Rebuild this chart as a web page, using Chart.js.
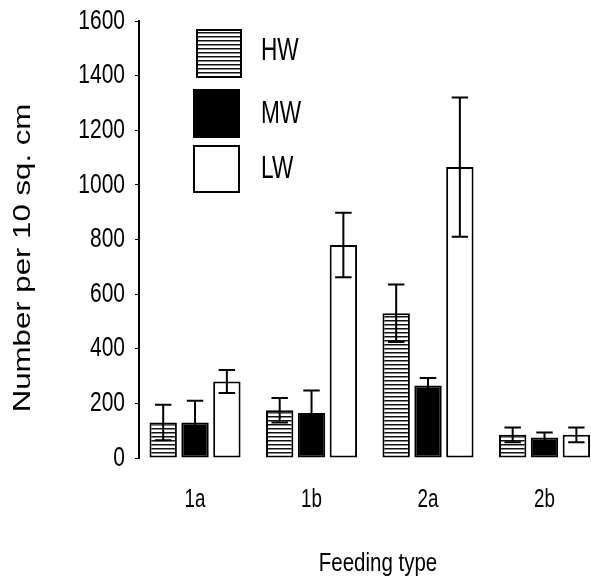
<!DOCTYPE html>
<html>
<head>
<meta charset="utf-8">
<script src="https://cdn.jsdelivr.net/npm/chart.js@4.4.1/dist/chart.umd.min.js"></script>
<style>
    html, body { margin: 0; padding: 0; background: #fff; }
    canvas { display: block; }
</style>
</head>
<body>
<canvas id="chart" width="591" height="586"></canvas>
<script>
// Data
const categories = ['1a', '1b', '2a', '2b'];
const seriesNames = ['HW', 'MW', 'LW'];
const hwValues = [130, 175, 530, 85];
const mwValues = [130, 165, 265, 75];
const lwValues = [280, 780, 1065, 85];
const hwErrors = [65, 45, 105, 27];
const mwErrors = [80, 82, 28, 18];
const lwErrors = [42, 118, 255, 27];
const yTicks = [0, 200, 400, 600, 800, 1000, 1200, 1400, 1600];

const errorSets = [hwErrors, mwErrors, lwErrors];
const sans = "'Liberation Sans', Arial, sans-serif";

const canvas = document.getElementById('chart');
const ctx0 = canvas.getContext('2d');

// horizontal stripe fill for HW
const makeHatch = () => {
    const c = document.createElement('canvas');
    c.width = 4;
    c.height = 4;
    const g = c.getContext('2d');
    g.fillStyle = '#fff';
    g.fillRect(0, 0, 4, 4);
    g.fillStyle = '#111';
    g.fillRect(0, 0, 4, 1);
    g.fillStyle = '#888';
    g.fillRect(0, 1, 4, 1);
    return ctx0.createPattern(c, 'repeat');
};
const hatch = makeHatch();
const fills = [hatch, '#000', '#fff'];

const toPoints = (vals) => vals.map((v, i) => ({ x: i + 1, y: v }));

// the figure uses a condensed face, none is installed, so squeeze Liberation Sans
const squeezed = (ctx, text, x, y, size, sx, align) => {
    ctx.save();
    ctx.translate(x, y);
    ctx.scale(sx, 1);
    ctx.font = size + 'px ' + sans;
    ctx.fillStyle = '#000';
    ctx.textAlign = align;
    ctx.textBaseline = 'middle';
    ctx.fillText(text, 0, 0);
    ctx.restore();
};

const errorBars = {
    id: 'errorBars',
    afterDatasetsDraw(chart) {
        const ctx = chart.ctx;
        const y = chart.scales.y;
        chart.data.datasets.forEach((ds, di) => {
            const meta = chart.getDatasetMeta(di);
            meta.data.forEach((bar, i) => {
                const v = ds.data[i].y;
                const e = errorSets[di][i];
                const top = y.getPixelForValue(v + e);
                const bot = y.getPixelForValue(v - e);
                const half = bar.width * 0.3;
                ctx.save();
                ctx.strokeStyle = '#000';
                ctx.lineWidth = 2;
                ctx.beginPath();
                ctx.moveTo(bar.x, top);
                ctx.lineTo(bar.x, bot);
                ctx.moveTo(bar.x - half, top);
                ctx.lineTo(bar.x + half, top);
                ctx.moveTo(bar.x - half, bot);
                ctx.lineTo(bar.x + half, bot);
                ctx.stroke();
                ctx.restore();
            });
        });
    }
};

// tick labels, titles and the legend box
const extras = {
    id: 'extras',
    afterDraw(chart) {
        const ctx = chart.ctx;
        const xs = chart.scales.x;
        const ys = chart.scales.y;

        yTicks.forEach((v) => squeezed(ctx, String(v), 125, ys.getPixelForValue(v), 28, 0.75, 'right'));
        categories.forEach((c, i) => squeezed(ctx, c, xs.getPixelForValue(i + 1), 500, 25, 0.75, 'center'));
        squeezed(ctx, 'Feeding type', 378, 564, 25, 0.82, 'center');

        const boxes = [
            { x: 197, y: 30, w: 44, h: 47, ty: 51 },
            { x: 194, y: 90, w: 45, h: 47, ty: 114 },
            { x: 194, y: 146, w: 45, h: 46, ty: 169 }
        ];
        boxes.forEach((b, i) => {
            ctx.save();
            ctx.fillStyle = fills[i];
            ctx.fillRect(b.x, b.y, b.w, b.h);
            ctx.strokeStyle = '#000';
            ctx.lineWidth = 2;
            ctx.strokeRect(b.x, b.y, b.w, b.h);
            ctx.restore();
            squeezed(ctx, seriesNames[i], 261, b.ty, 31, 0.73, 'left');
        });

        ctx.save();
        ctx.translate(23, 258);
        ctx.rotate(-Math.PI / 2);
        ctx.scale(1.3, 1);
        ctx.font = '24px ' + sans;
        ctx.fillStyle = '#000';
        ctx.textAlign = 'center';
        ctx.textBaseline = 'middle';
        ctx.fillText('Number per 10 sq. cm', 0, 0);
        ctx.restore();
    }
};

new Chart(canvas, {
    type: 'bar',
    data: {
        datasets: seriesNames.map((name, i) => ({
            label: name,
            data: toPoints([hwValues, mwValues, lwValues][i]),
            backgroundColor: fills[i],
            borderColor: '#000',
            borderWidth: 2,
            borderSkipped: false
        }))
    },
    options: {
        responsive: false,
        animation: false,
        devicePixelRatio: 1,
        categoryPercentage: 0.82,
        barPercentage: 0.86,
        layout: { padding: { top: 21, right: 0, bottom: 0, left: 0 } },
        plugins: {
            legend: { display: false },
            tooltip: { enabled: false }
        },
        scales: {
            x: {
                type: 'linear',
                offset: false,
                min: 0.519,
                max: 4.399,
                afterBuildTicks: (s) => { s.ticks = categories.map((c, i) => ({ value: i + 1 })); },
                afterFit: (s) => { s.height = 128; },
                grid: { display: false, drawTicks: false },
                border: { display: false },
                ticks: { display: false }
            },
            y: {
                min: 0,
                max: 1600,
                afterBuildTicks: (s) => { s.ticks = yTicks.map((v) => ({ value: v })); },
                afterFit: (s) => { s.width = 139; },
                grid: { display: true, drawOnChartArea: false, drawTicks: true, tickLength: 4, color: '#000' },
                border: { display: true, color: '#000', width: 2 },
                ticks: { display: false }
            }
        }
    },
    plugins: [errorBars, extras]
});
</script>
</body>
</html>
